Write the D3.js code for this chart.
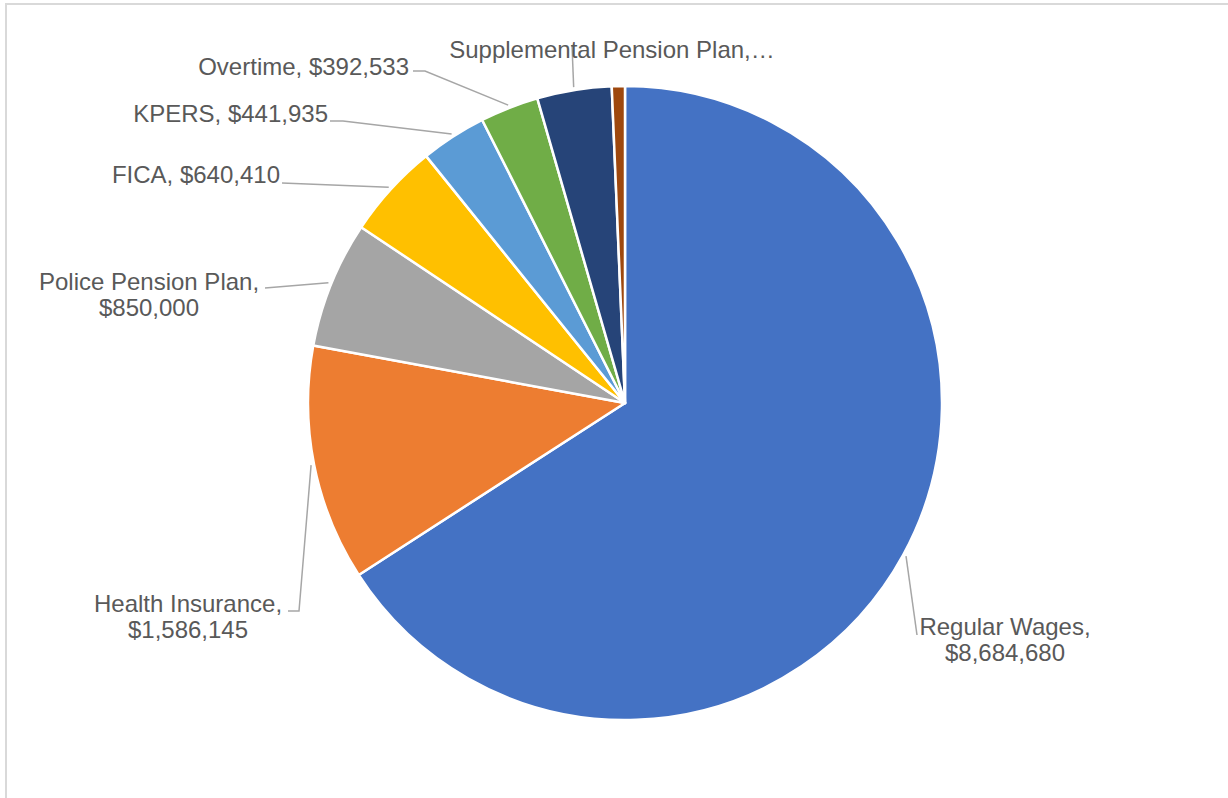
<!DOCTYPE html>
<html>
<head>
<meta charset="utf-8">
<script src="https://cdn.jsdelivr.net/npm/d3@7/dist/d3.min.js"></script>
<style>
  html, body { margin: 0; padding: 0; background: #ffffff; }
  svg { display: block; }
</style>
</head>
<body>
<svg id="chart" width="1228" height="798"></svg>
<script>
// Personnel cost categories, in clockwise order from 12 o'clock
const categories = [
  "Regular Wages",
  "Health Insurance",
  "Police Pension Plan",
  "FICA",
  "KPERS",
  "Overtime",
  "Supplemental Pension Plan",
  "Other"
];
const amounts = [8684680, 1586145, 850000, 640410, 441935, 392533, 500000, 88000];
const sliceColors = ["#4472C4", "#ED7D31", "#A5A5A5", "#FFC000", "#5B9BD5", "#70AD47", "#264478", "#9E480E"];

// Label text lines per category (null = no label shown)
const labelLines = [
  ["Regular Wages,", "$8,684,680"],
  ["Health Insurance,", "$1,586,145"],
  ["Police Pension Plan,", "$850,000"],
  ["FICA, $640,410"],
  ["KPERS, $441,935"],
  ["Overtime, $392,533"],
  ["Supplemental Pension Plan,\u2026"],
  null
];

// ---- layout ----
const W = 1228, H = 798;
const cx = 625, cy = 403, radius = 317;
const fontSize = 24, lineGap = 26;

// label placement relative to pie centre: text anchor point, alignment,
// and where the leader line leaves the label (elbow = optional bend point)
const labelLayout = [
  { tx: 380, ty: 232, anchor: "middle", start: [292, 232], elbow: null },
  { tx: -437, ty: 209, anchor: "middle", start: [-337, 208], elbow: [-326, 208] },
  { tx: -476, ty: -113, anchor: "middle", start: [-360, -115], elbow: null },
  { tx: -345, ty: -220, anchor: "end", start: [-343, -220], elbow: null },
  { tx: -297, ty: -281, anchor: "end", start: [-295, -282], elbow: [-282, -282] },
  { tx: -216, ty: -328, anchor: "end", start: [-212, -332], elbow: [-200, -332] },
  { tx: -13, ty: -345, anchor: "middle", start: [-53, -358], elbow: null },
  null
];

const svg = d3.select("#chart");

// outer frame (light grey, continues past the right/bottom edges)
svg.append("rect")
  .attr("x", 6).attr("y", 4)
  .attr("width", W + 20).attr("height", H + 20)
  .attr("fill", "#ffffff")
  .attr("stroke", "#D9D9D9")
  .attr("stroke-width", 2);

const data = categories.map((c, i) => ({ name: c, value: amounts[i], color: sliceColors[i], lines: labelLines[i], layout: labelLayout[i] }));

const pie = d3.pie().sort(null).value(d => d.value).startAngle(0).endAngle(2 * Math.PI);
const arcs = pie(data);

const arc = d3.arc().innerRadius(0).outerRadius(radius);

const g = svg.append("g").attr("transform", `translate(${cx},${cy})`);

// leader lines (drawn first so the label text sits on top)
const leaderR = radius + 3;
const leaders = g.append("g").attr("class", "leaders");
arcs.forEach(a => {
  const L = a.data.layout;
  if (!L) return;
  const mid = (a.startAngle + a.endAngle) / 2;
  const rim = [Math.sin(mid) * leaderR, -Math.cos(mid) * leaderR];
  const pts = [L.start];
  if (L.elbow) pts.push(L.elbow);
  pts.push(rim);
  leaders.append("path")
    .attr("d", d3.line()(pts))
    .attr("fill", "none")
    .attr("stroke", "#A6A6A6")
    .attr("stroke-width", 1.5);
});

// slices
g.append("g").selectAll("path")
  .data(arcs)
  .join("path")
  .attr("d", arc)
  .attr("fill", d => d.data.color)
  .attr("stroke", "#ffffff")
  .attr("stroke-width", 2.5)
  .attr("stroke-linejoin", "round");

// data labels
const labels = g.append("g")
  .attr("font-family", "'Liberation Sans', Arial, sans-serif")
  .attr("font-size", fontSize)
  .attr("fill", "#595959");

arcs.forEach(a => {
  const d = a.data;
  if (!d.lines) return;
  const L = d.layout;
  const t = labels.append("text")
    .attr("x", L.tx).attr("y", L.ty)
    .attr("text-anchor", L.anchor);
  d.lines.forEach((s, i) => {
    t.append("tspan")
      .attr("x", L.tx)
      .attr("dy", i === 0 ? 0 : lineGap)
      .text(s);
  });
});
</script>
</body>
</html>
